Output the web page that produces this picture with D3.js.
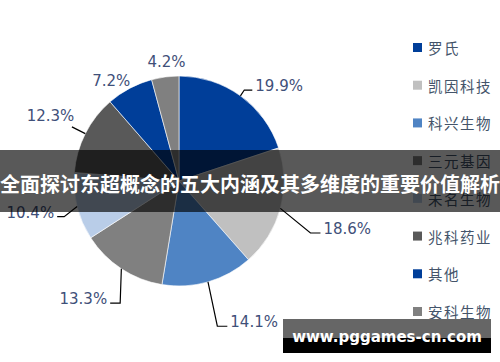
<!DOCTYPE html>
<html>
<head>
<meta charset="utf-8">
<script src="https://cdn.jsdelivr.net/npm/d3@7"></script>
<style>
  body { margin: 0; background: #fff; }
  svg { display: block; }
</style>
</head>
<body>
<svg id="chart"></svg>
<script>
// data
var names = ["罗氏", "凯因科技", "科兴生物", "三元基因", "未名生物", "兆科药业", "其他", "安科生物"];
var shares = [19.9, 18.6, 14.1, 13.3, 10.4, 12.3, 7.2, 4.2];
var colors = ["#003e99", "#c0c0c0", "#4f84c4", "#808080", "#b9cde8", "#595959", "#003e99", "#808080"];

var title = "全面探讨东超概念的五大内涵及其多维度的重要价值解析";
var watermark = "www.pggames-cn.com";

// label placement (angle nudge in degrees, distance from centre, leader tail)
var labelNudge = [10.7, 0.8, -12, 5.7, 2, 0, -6, 1.6];
var labelDist  = [138, 175, 160, 152, 152, 144, 121, 120];
var labelTail  = [8, 10, 10, 10, 7, 0, -1, -1];

var width = 500, height = 362;
var cx = 179, cy = 181, r = 105;

var svg = d3.select("#chart")
    .attr("width", width)
    .attr("height", height);

var pie = d3.pie().sort(null).value(function(d) { return d; });
var arcs = pie(shares);
var arc = d3.arc().innerRadius(0).outerRadius(r);

var g = svg.append("g")
    .attr("transform", "translate(" + cx + "," + cy + ")");

g.selectAll("path.slice")
    .data(arcs)
    .enter().append("path")
    .attr("class", "slice")
    .attr("d", arc)
    .attr("fill", function(d, i) { return colors[i]; })
    .attr("stroke", "#fff")
    .attr("stroke-width", 0.6);

function polar(a, dist) {
  return [dist * Math.sin(a), -dist * Math.cos(a)];
}

// percentage labels + leader lines
arcs.forEach(function(d, i) {
  var mid = (d.startAngle + d.endAngle) / 2;
  var p = polar(mid + labelNudge[i] * Math.PI / 180, labelDist[i]);
  var t = g.append("text")
      .attr("x", p[0])
      .attr("y", p[1])
      .attr("text-anchor", "middle")
      .attr("dominant-baseline", "central")
      .style("font-family", "DejaVu Sans, sans-serif")
      .style("font-size", "15px")
      .style("fill", "#3f5079")
      .text(shares[i].toFixed(1) + "%");

  if (labelTail[i] < 0) return;
  var w = t.node().getComputedTextLength();
  var p0 = polar(mid, r);
  var right = p[0] > 0;
  var ly = p[1] + 4;
  var p2, p1;
  if (right) {
    p2 = [p[0] - w / 2 - 3, ly];
    p1 = [p2[0] - labelTail[i], ly];
  } else {
    p2 = [p[0] + w / 2 + 3, ly];
    p1 = [p2[0] + labelTail[i], ly];
  }
  if (labelTail[i] === 0) {
    p1 = polar(mid, r + 15);
    p2 = p1;
  }
  g.append("path")
      .attr("d", d3.line()([p0, p1, p2]))
      .attr("fill", "none")
      .attr("stroke", "#000")
      .attr("stroke-width", 1.2);
});

// legend
var ly = d3.scalePoint().domain(names).range([47.5, 311.5]);
var leg = svg.append("g").selectAll("g")
    .data(names)
    .enter().append("g")
    .attr("transform", function(d) { return "translate(413," + ly(d) + ")"; });

leg.append("rect")
    .attr("x", 0).attr("y", -4.5)
    .attr("width", 9).attr("height", 9)
    .attr("fill", function(d, i) { return colors[i]; });

leg.append("text")
    .attr("x", 15)
    .attr("dominant-baseline", "central")
    .style("font-family", "Noto Sans CJK SC, sans-serif")
    .style("font-size", "14.5px")
    .style("letter-spacing", "1.5px")
    .style("fill", "#44546a")
    .text(function(d) { return d; });

// title banner
svg.append("rect")
    .attr("x", 0).attr("y", 150)
    .attr("width", width).attr("height", 62)
    .attr("fill", "rgba(0,0,0,0.65)");

svg.append("text")
    .attr("x", width / 2)
    .attr("y", 183)
    .attr("text-anchor", "middle")
    .attr("dominant-baseline", "central")
    .style("font-family", "Noto Sans CJK SC, sans-serif")
    .style("font-weight", "bold")
    .style("font-size", "20px")
    .style("fill", "#fff")
    .text(title);

// watermark box
svg.append("rect")
    .attr("x", 283).attr("y", 319)
    .attr("width", 208).attr("height", 19)
    .attr("fill", "#666");
svg.append("rect")
    .attr("x", 283).attr("y", 338)
    .attr("width", 208).attr("height", 15)
    .attr("fill", "#000");
svg.append("text")
    .attr("x", 387)
    .attr("y", 342)
    .attr("text-anchor", "middle")
    .style("font-family", "DejaVu Sans, sans-serif")
    .style("font-weight", "bold")
    .style("font-size", "15px")
    .style("fill", "#fff")
    .text(watermark);
</script>
</body>
</html>
